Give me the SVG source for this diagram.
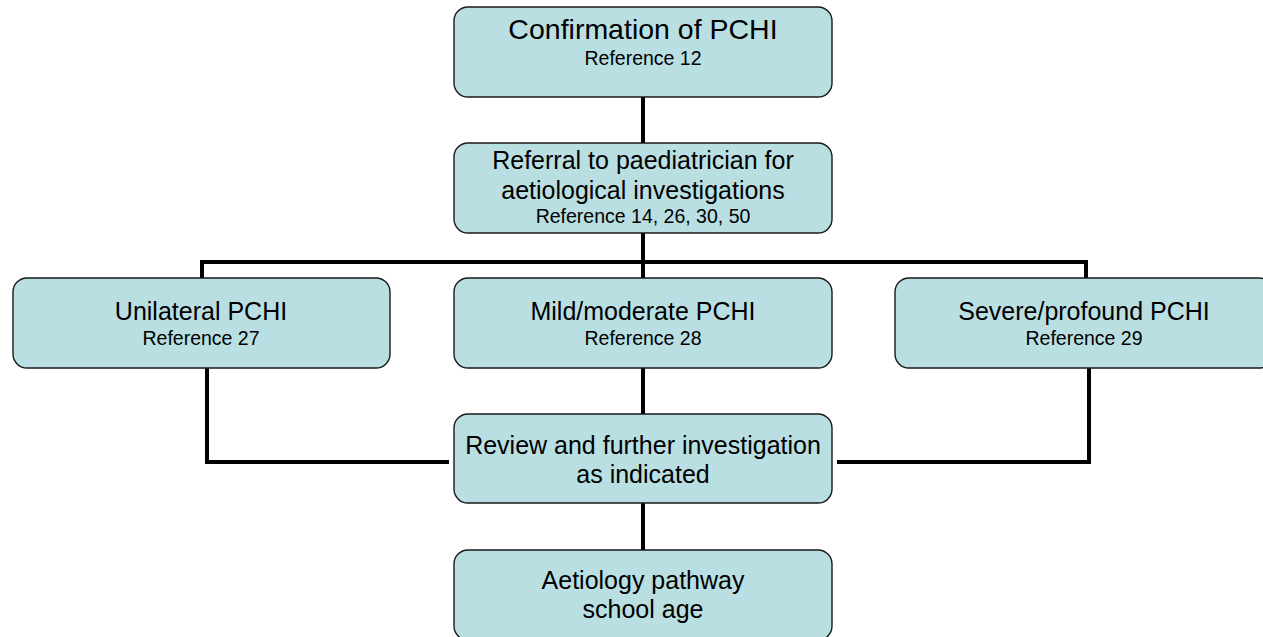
<svg xmlns="http://www.w3.org/2000/svg" width="1263" height="637" viewBox="0 0 1263 637">
  <style>
    .box { fill: #b9dfe2; stroke: #1a1a1a; stroke-width: 1.4; }
    .wire { fill: none; stroke: #000; stroke-width: 4; stroke-linejoin: miter; }
    text { font-family: "Liberation Sans", Arial, sans-serif; fill: #000; text-anchor: middle; }
    .main { font-size: 25px; }
    .title { font-size: 28.5px; }
    .ref { font-size: 19.5px; }
  </style>
  <rect width="1263" height="637" fill="#ffffff"/>

  <!-- connectors -->
  <g id="connectors">
    <path class="wire" d="M643 97 V143"/>
    <path class="wire" d="M643 233 V278"/>
    <path class="wire" d="M202 278 V262 H1086 V278"/>
    <path class="wire" d="M207 368 V462 H449"/>
    <path class="wire" d="M1089 368 V462 H837"/>
    <path class="wire" d="M643 368 V414"/>
    <path class="wire" d="M643 503 V550"/>
  </g>

  <g id="confirmation">
    <rect class="box" x="454" y="7" width="378" height="90" rx="14"/>
    <text class="title" x="643" y="39">Confirmation of PCHI</text>
    <text class="ref" x="643" y="65">Reference 12</text>
  </g>

  <g id="referral">
    <rect class="box" x="454" y="143" width="378" height="90" rx="14"/>
    <text class="main" x="643" y="169">Referral to paediatrician for</text>
    <text class="main" x="643" y="199">aetiological investigations</text>
    <text class="ref" x="643" y="223">Reference 14, 26, 30, 50</text>
  </g>

  <g id="unilateral">
    <rect class="box" x="13" y="278" width="377" height="90" rx="14"/>
    <text class="main" x="201" y="320">Unilateral PCHI</text>
    <text class="ref" x="201" y="345">Reference 27</text>
  </g>

  <g id="mild-moderate">
    <rect class="box" x="454" y="278" width="378" height="90" rx="14"/>
    <text class="main" x="643" y="320">Mild/moderate PCHI</text>
    <text class="ref" x="643" y="345">Reference 28</text>
  </g>

  <g id="severe-profound">
    <rect class="box" x="895" y="278" width="378" height="90" rx="14"/>
    <text class="main" x="1084" y="320">Severe/profound PCHI</text>
    <text class="ref" x="1084" y="345">Reference 29</text>
  </g>

  <g id="review">
    <rect class="box" x="454" y="414" width="378" height="89" rx="14"/>
    <text class="main" x="643" y="454">Review and further investigation</text>
    <text class="main" x="643" y="483">as indicated</text>
  </g>

  <g id="aetiology-school">
    <rect class="box" x="454" y="550" width="378" height="90" rx="14"/>
    <text class="main" x="643" y="589">Aetiology pathway</text>
    <text class="main" x="643" y="618">school age</text>
  </g>
</svg>
